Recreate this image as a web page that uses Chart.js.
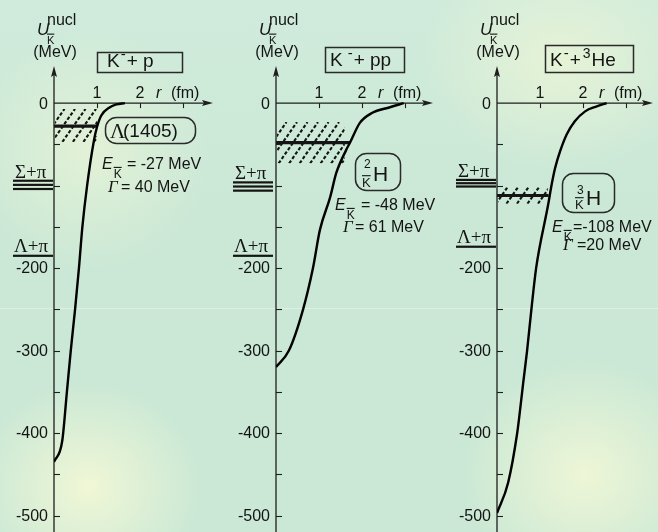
<!DOCTYPE html>
<html><head><meta charset="utf-8">
<script src="https://cdn.jsdelivr.net/npm/chart.js@4.4.1/dist/chart.umd.min.js"></script>
<style>
html,body{margin:0;padding:0;}
body{width:658px;height:532px;overflow:hidden;position:relative;background:#cbe8d6;}
#bg{position:absolute;left:0;top:0;width:658px;height:532px;
background:
radial-gradient(ellipse 115px 105px at 88px 487px, rgba(240,247,214,1), rgba(240,247,214,0)),
radial-gradient(ellipse 125px 115px at 585px 475px, rgba(238,246,214,1), rgba(238,246,214,0)),
radial-gradient(ellipse 140px 110px at 560px 60px, rgba(233,244,214,0.9), rgba(233,244,214,0)),
radial-gradient(ellipse 120px 120px at 90px 150px, rgba(230,243,214,0.85), rgba(230,243,214,0)),
linear-gradient(180deg,#d0ebdb 0%,#cbe8d6 40%,#cae8d5 100%);}
#streak{position:absolute;left:0;top:308px;width:658px;height:1px;background:rgba(255,255,255,0.35);}
canvas{position:absolute;top:0;}
</style></head><body>
<div id="bg"></div><div id="streak"></div>
<canvas id="c0" width="220" height="532" style="left:0px;width:220px;height:532px"></canvas>
<canvas id="c1" width="220" height="532" style="left:220px;width:220px;height:532px"></canvas>
<canvas id="c2" width="218" height="532" style="left:440px;width:218px;height:532px"></canvas>
<script>
// ---------------- DATA ----------------
// K- + p potential curve
const r_Kp   = [0, 0.19, 0.30, 0.39, 0.49, 0.58, 0.66, 0.77, 0.93, 1.0, 1.1, 1.3, 1.45, 1.65];
const U_Kp   = [-435, -410, -350, -300, -250, -200, -150, -100, -45, -29, -15, -5, -1.5, 0];
// K- + pp potential curve
const r_Kpp  = [0, 0.3, 0.63, 0.86, 1.02, 1.26, 1.4, 1.63, 1.72, 1.95, 2.23, 2.65, 2.97];
const U_Kpp  = [-320, -300, -250, -200, -154, -114, -85, -57, -48, -24, -12, -5, 0];
// K- + 3He potential curve
const r_K3He = [0, 0.26, 0.47, 0.53, 0.61, 0.70, 0.80, 0.91, 1.19, 1.27, 1.35, 1.47, 1.62, 1.81, 2.05, 2.32, 2.55];
const U_K3He = [-497, -460, -400, -375, -339, -300, -250, -200, -123, -99, -79, -58, -38, -22, -10, -4, 0];

const bindingE   = [-27, -48, -108];   // E_K (MeV), text
const widthGamma = [40, 61, 20];       // Gamma (MeV), text
const levelU     = [-28, -48, -112];   // drawn level position (MeV)
const levelR     = [1.0, 1.72, 1.2];   // level line extent (fm)
const hatchTop   = [-7, -23, -102];
const hatchBot   = [-47, -73, -122];
const hatchR     = [1.0, 1.6, 1.18];
const sigmaPiU   = [[-94, -99, -104], [-96, -101, -106], [-93, -97, -101]];
const lambdaPiU  = [-185, -185, -174];

const yTickValues  = [-50, -100, -150, -200, -250, -300, -350, -400, -450, -500];
const yLabelValues = [0, -200, -300, -400, -500];
const yLabelTexts  = ['0', '-200', '-300', '-400', '-500'];
const xTickValues  = [1, 2, 3];
const xLabelValues = [1, 2];
const xLabelTexts  = ['1', '2'];

const curvesR = [r_Kp, r_Kpp, r_K3He];
const curvesU = [U_Kp, U_Kpp, U_K3He];

// ---------------- DRAWING ----------------
const SANS = '"Liberation Sans", Arial, Helvetica, sans-serif';
const SERIF = '"Liberation Serif", "Times New Roman", serif';
const INK = '#141414';
const PX_PER_FM = 43;

const panels = [
  {canvas:'c0', width:220, axisX:54,
   title:{box:[97,52,85,20], x:107, y:67, parts:[
     {t:'K',f:'19px '+SANS},{t:'-',f:'15px '+SANS,dy:-8,dx:1},{t:'+ p',f:'19px '+SANS,dx:1}]},
   eX:102, eY:169, eqX:127, gX:108, gY:192, gqX:121, eFmt:'= ', gFmt:'= ', sigX:15},
  {canvas:'c1', width:220, axisX:56,
   title:{box:[105,47,79,25], x:110, y:66, parts:[
     {t:'K',f:'19px '+SANS},{t:'-',f:'15px '+SANS,dy:-8,dx:5},{t:'+ pp',f:'19px '+SANS,dx:1}]},
   eX:115, eY:210, eqX:141, gX:123, gY:232, gqX:135, eFmt:'= ', gFmt:'= ', sigX:15},
  {canvas:'c2', width:218, axisX:57,
   title:{box:[105,45,88,27], x:110, y:66, parts:[
     {t:'K',f:'19px '+SANS},{t:'-',f:'15px '+SANS,dy:-8,dx:1},{t:'+',f:'19px '+SANS,dx:1},
     {t:'3',f:'14px '+SANS,dy:-8,dx:2},{t:'He',f:'19px '+SANS,dx:1}]},
   eX:112, eY:232, eqX:133, gX:123, gY:250, gqX:137, eFmt:'=', gFmt:'=', sigX:18}
];

function rich(ctx, x, y, parts){
  for (const p of parts){
    ctx.font = p.f;
    x += (p.dx||0);
    ctx.fillText(p.t, x, y + (p.dy||0));
    x += ctx.measureText(p.t).width;
  }
  return x;
}
function roundRect(ctx, x, y, w, h, r){
  ctx.beginPath();
  ctx.moveTo(x+r, y); ctx.lineTo(x+w-r, y); ctx.arcTo(x+w, y, x+w, y+r, r);
  ctx.lineTo(x+w, y+h-r); ctx.arcTo(x+w, y+h, x+w-r, y+h, r);
  ctx.lineTo(x+r, y+h); ctx.arcTo(x, y+h, x, y+h-r, r);
  ctx.lineTo(x, y+r); ctx.arcTo(x, y, x+r, y, r); ctx.closePath();
}
function kbar(ctx, x, y, size){ // K with overbar, baseline y
  ctx.font = size+'px '+SANS;
  ctx.fillText('K', x, y);
  const w = ctx.measureText('K').width;
  ctx.fillRect(x, y - size*0.72 - 2.5, w, 1.1);
  return x + w;
}

function makePlugin(i){
  const P = panels[i];
  return {
    id:'deco'+i,
    beforeDatasetsDraw(chart){
      const ctx = chart.ctx, xs = chart.scales.x, ys = chart.scales.y, ca = chart.chartArea;
      const ax = xs.getPixelForValue(0), ay = ys.getPixelForValue(0);
      ctx.save();
      // hatched band
      const hx1 = xs.getPixelForValue(hatchR[i]);
      const hy0 = ys.getPixelForValue(hatchTop[i]), hy1 = ys.getPixelForValue(hatchBot[i]);
      ctx.save();
      ctx.beginPath(); ctx.rect(ax+1, hy0, hx1-ax-1, hy1-hy0); ctx.clip();
      ctx.strokeStyle = INK; ctx.lineWidth = 2.1; ctx.setLineDash([3.4, 2.0]);
      const h = hy1 - hy0, k = 0.7;
      ctx.beginPath();
      for (let x = ax - h*k; x < hx1 + 12; x += 10.5){
        ctx.moveTo(x, hy1); ctx.lineTo(x + h*k, hy0);
      }
      ctx.stroke();
      ctx.restore();
      // level line
      ctx.strokeStyle = INK; ctx.lineWidth = 3.2;
      const ly = ys.getPixelForValue(levelU[i]);
      ctx.beginPath(); ctx.moveTo(ax, ly); ctx.lineTo(xs.getPixelForValue(levelR[i]), ly); ctx.stroke();

      // axes
      ctx.strokeStyle = '#1e1e1e'; ctx.fillStyle = '#1e1e1e'; ctx.lineWidth = 1.3;
      ctx.beginPath(); ctx.moveTo(ax, chart.height); ctx.lineTo(ax, ca.top + 4); ctx.stroke();
      ctx.beginPath(); ctx.moveTo(ax, ca.top); ctx.lineTo(ax-3, ca.top+11); ctx.lineTo(ax, ca.top+9); ctx.lineTo(ax+3, ca.top+11); ctx.closePath(); ctx.fill();
      ctx.beginPath(); ctx.moveTo(ax, ay); ctx.lineTo(ca.right - 4, ay); ctx.stroke();
      ctx.beginPath(); ctx.moveTo(ca.right, ay); ctx.lineTo(ca.right-11, ay-3); ctx.lineTo(ca.right-9, ay); ctx.lineTo(ca.right-11, ay+3); ctx.closePath(); ctx.fill();
      // y ticks
      ctx.lineWidth = 1.1;
      for (const v of yTickValues){
        const y = Math.round(ys.getPixelForValue(v)) + 0.5;
        ctx.beginPath(); ctx.moveTo(ax, y); ctx.lineTo(ax+6, y); ctx.stroke();
      }
      // x ticks
      for (const v of xTickValues){
        const x = Math.round(xs.getPixelForValue(v)) + 0.5;
        ctx.beginPath(); ctx.moveTo(x, ay); ctx.lineTo(x, ay+5); ctx.stroke();
      }
      // y labels
      ctx.fillStyle = INK; ctx.font = '16px '+SANS; ctx.textAlign = 'right'; ctx.textBaseline = 'middle';
      yLabelValues.forEach((v, j) => ctx.fillText(yLabelTexts[j], ax - 6, ys.getPixelForValue(v) + 1));
      // x labels
      ctx.textAlign = 'center'; ctx.textBaseline = 'alphabetic';
      xLabelValues.forEach((v, j) => ctx.fillText(xLabelTexts[j], xs.getPixelForValue(v), ay - 5));
      ctx.textAlign = 'left';
      ctx.font = 'italic 16px '+SANS; ctx.fillText('r', ax + 102, ay - 5);
      ctx.font = '16px '+SANS; ctx.fillText('(fm)', ax + 117, ay - 5);

      // thresholds
      ctx.fillStyle = INK;
      for (const v of sigmaPiU[i]){
        const y = ys.getPixelForValue(v);
        ctx.fillRect(P.sigX - 2, y - 1, 40, 2.2);
      }
      const s0 = ys.getPixelForValue(sigmaPiU[i][0]);
      ctx.font = '19px '+SERIF; ctx.fillText('\u03A3+\u03C0', P.sigX, s0 - 3);
      const l0 = ys.getPixelForValue(lambdaPiU[i]);
      ctx.fillRect(P.sigX - 2, l0 - 1, 40, 2.2);
      ctx.fillText('\u039B+\u03C0', P.sigX - 1, l0 - 4);
      ctx.restore();
    },
    afterDatasetsDraw(chart){
      const ctx = chart.ctx, xs = chart.scales.x;
      const ax = xs.getPixelForValue(0);
      ctx.save();
      ctx.fillStyle = INK; ctx.strokeStyle = INK; ctx.textAlign = 'left'; ctx.textBaseline = 'alphabetic';
      // axis quantity label U_Kbar^nucl (MeV)
      ctx.font = 'italic 17px '+SANS; ctx.fillText('U', ax - 17, 35);
      kbar(ctx, ax - 7, 44, 11);
      ctx.font = '16px '+SANS; ctx.fillText('nucl', ax - 7, 25);
      ctx.textAlign = 'center'; ctx.fillText('(MeV)', ax + 1, 57); ctx.textAlign = 'left';
      // title box
      const b = P.title.box;
      ctx.lineWidth = 1.5; ctx.strokeStyle = '#2a2a2a';
      ctx.strokeRect(b[0]+0.5, b[1]+0.5, b[2], b[3]);
      rich(ctx, P.title.x, P.title.y, P.title.parts);
      // state label
      ctx.lineWidth = 1.5;
      if (i === 0){
        roundRect(ctx, 105.5, 117.5, 90, 26, 11); ctx.stroke();
        ctx.font = '21px '+SERIF; ctx.fillText('\u039B', 110, 138);
        ctx.font = '19px '+SANS; ctx.fillText('(1405)', 123, 137);
      } else if (i === 1){
        roundRect(ctx, 135.5, 153.5, 45, 37, 11); ctx.stroke();
        ctx.font = '12px '+SANS; ctx.fillText('2', 144, 168);
        kbar(ctx, 142, 187, 13);
        ctx.font = '21px '+SANS; ctx.fillText('H', 153, 181);
      } else {
        roundRect(ctx, 122.5, 173.5, 52, 39, 11); ctx.stroke();
        ctx.font = '12px '+SANS; ctx.fillText('3', 137, 194);
        kbar(ctx, 135, 209, 13);
        ctx.font = '21px '+SANS; ctx.fillText('H', 146, 205);
      }
      // E and Gamma
      ctx.font = 'italic 16px '+SANS; ctx.fillText('E', P.eX, P.eY);
      const ew = ctx.measureText('E').width;
      kbar(ctx, P.eX + ew + 1, P.eY + 9, 12);
      ctx.font = '16px '+SANS; ctx.fillText(P.eFmt + bindingE[i] + ' MeV', P.eqX, P.eY);
      ctx.font = 'italic 17px '+SERIF; ctx.fillText('\u0393', P.gX, P.gY);
      ctx.font = '16px '+SANS; ctx.fillText(P.gFmt + widthGamma[i] + ' MeV', P.gqX, P.gY);
      ctx.restore();
    }
  };
}

panels.forEach((P, i) => {
  const right = 213;
  const xMax = (right - P.axisX) / PX_PER_FM;
  new Chart(document.getElementById(P.canvas), {
    type: 'scatter',
    data: { datasets: [{
      data: curvesR[i].map((r, k) => ({x: r, y: curvesU[i][k]})),
      showLine: true, borderColor: '#000', borderWidth: 2.4, pointRadius: 0,
      cubicInterpolationMode: 'monotone', fill: false
    }]},
    options: {
      responsive: false, animation: false, maintainAspectRatio: false, devicePixelRatio: 1,
      layout: { padding: { left: P.axisX, right: P.width - right, top: 66, bottom: 0 } },
      scales: {
        x: { type: 'linear', display: false, min: 0, max: xMax },
        y: { type: 'linear', display: false, min: -520, max: 45 }
      },
      plugins: { legend: { display: false }, tooltip: { enabled: false }, title: { display: false } }
    },
    plugins: [makePlugin(i)]
  });
});
</script></body></html>
